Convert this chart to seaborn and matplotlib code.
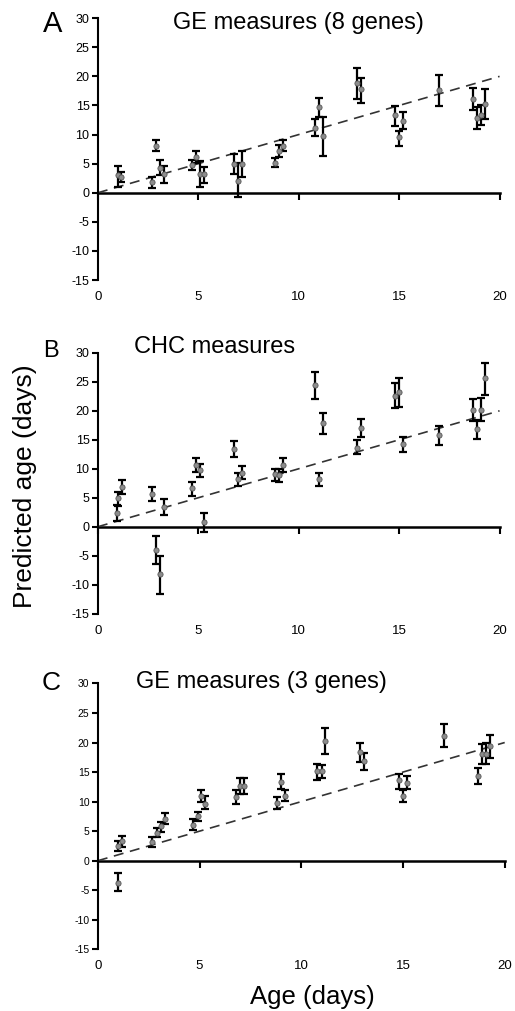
import numpy as np
import pandas as pd
import seaborn as sns
import matplotlib.pyplot as plt

# Panel A: GE measures (8 genes)
a_age = [0.98, 1.16, 2.69, 2.9, 3.1, 3.3, 4.68, 4.88, 5.1, 5.3, 6.77, 7.0, 7.19, 8.8, 9.0, 9.2,
         10.8, 11.0, 11.2, 12.9, 13.1, 14.8, 15.0, 15.2, 17.0, 18.7, 18.9, 19.1, 19.3]
a_pred = [3.0, 2.75, 1.9, 8.1, 4.3, 3.3, 4.8, 6.2, 3.3, 3.2, 4.9, 2.1, 4.9, 5.2, 7.2, 8.1,
          11.2, 14.7, 9.75, 18.8, 17.8, 13.4, 9.5, 12.4, 17.6, 16.1, 12.9, 13.4, 15.3]
a_hi = [4.6, 3.6, 2.75, 9.1, 5.7, 4.6, 5.6, 7.1, 5.5, 4.5, 6.7, 5.2, 7.1, 6.0, 8.2, 9.1,
        12.6, 16.2, 13.1, 21.5, 19.8, 14.9, 10.7, 13.8, 20.3, 18.0, 14.8, 15.1, 17.8]
a_lo = [1.0, 1.9, 0.9, 7.2, 3.0, 1.6, 3.9, 5.2, 1.0, 1.7, 3.2, -0.8, 2.75, 4.4, 6.1, 7.2,
        9.8, 13.1, 6.4, 16.1, 15.5, 11.5, 8.1, 10.9, 14.9, 14.3, 11.0, 11.6, 12.7]

# Panel B: CHC measures
b_age = [0.95, 1.0, 1.2, 2.69, 2.89, 3.09, 3.3, 4.68, 4.88, 5.1, 5.3, 6.77, 6.97, 7.19, 8.8, 9.0,
         9.2, 10.8, 11.0, 11.2, 12.9, 13.1, 14.8, 15.0, 15.2, 17.0, 18.7, 18.9, 19.1, 19.3]
b_pred = [2.4, 4.9, 6.9, 5.6, -4.0, -8.2, 3.4, 6.6, 10.6, 9.8, 0.75, 13.4, 8.2, 9.3, 9.1, 8.9,
          10.7, 24.4, 8.2, 17.9, 13.6, 17.1, 22.5, 23.2, 14.2, 15.8, 20.1, 16.8, 20.2, 25.6]
b_hi = [3.7, 6.0, 8.0, 6.9, -1.6, -5.1, 4.8, 7.8, 11.9, 10.8, 2.4, 14.8, 9.3, 10.5, 9.9, 9.9,
        11.9, 26.7, 9.2, 19.7, 14.9, 18.6, 24.8, 25.6, 15.4, 17.4, 22.0, 18.4, 22.2, 28.3]
b_lo = [1.0, 3.6, 5.7, 4.5, -6.5, -11.6, 2.0, 5.3, 9.5, 8.6, -0.9, 12.1, 7.1, 8.2, 7.9, 7.8,
        9.5, 22.0, 7.1, 16.0, 12.5, 15.4, 20.4, 20.7, 12.9, 14.1, 18.3, 15.1, 18.3, 22.7]

# Panel C: GE measures (3 genes)
c_age = [0.97, 0.97, 1.18, 2.68, 2.9, 3.09, 3.3, 4.7, 4.9, 5.09, 5.29, 6.79, 7.0, 7.2, 8.79,
         8.98, 9.2, 10.79, 11.0, 11.19, 12.9, 13.1, 14.8, 15.0, 15.2, 17.0, 18.7, 18.9, 19.1, 19.3]
c_pred = [2.55, -3.7, 3.3, 3.1, 4.7, 5.8, 7.1, 6.1, 7.5, 10.9, 9.6, 10.75, 12.6, 12.6, 9.7,
          13.4, 11.0, 15.1, 15.2, 20.3, 18.4, 16.9, 13.6, 11.0, 13.1, 21.1, 14.3, 18.1, 18.1, 19.4]
c_hi = [3.4, -2.1, 4.1, 4.0, 5.5, 6.6, 8.0, 7.0, 8.2, 11.9, 10.9, 11.9, 14.0, 14.0, 10.75,
        14.6, 12.0, 16.4, 16.2, 22.4, 20.0, 18.2, 14.7, 12.0, 14.3, 23.1, 15.7, 19.8, 19.9, 21.3]
c_lo = [1.6, -5.2, 2.3, 2.3, 4.0, 4.9, 6.2, 5.2, 6.8, 9.9, 8.7, 9.6, 11.3, 11.3, 8.8,
        12.2, 10.1, 13.7, 14.0, 18.0, 16.7, 15.3, 12.1, 9.9, 12.1, 19.2, 12.9, 16.4, 16.3, 17.3]

# identity line (predicted = actual)
ref_age = [0, 20]
ref_pred = [0, 20]

titles = ["GE measures (8 genes)", "CHC measures", "GE measures (3 genes)"]
letters = ["A", "B", "C"]

sns.set_style("ticks")
plt.rcParams['font.family'] = ['Liberation Sans', 'DejaVu Sans']
plt.rcParams['axes.unicode_minus'] = False
plt.rcParams['text.color'] = 'black'
plt.rcParams['xtick.color'] = 'black'
plt.rcParams['ytick.color'] = 'black'
plt.rcParams['axes.edgecolor'] = 'black'

fig = plt.figure(figsize=(5.15, 10.11), dpi=100)
boxes = [[0.19, 0.723, 0.78, 0.259],
         [0.19, 0.393, 0.78, 0.258],
         [0.19, 0.061, 0.79, 0.263]]
title_pos = [(0.579, 0.988), (0.26, 0.668), (0.264, 0.336)]
title_ha = ["center", "left", "left"]
letter_pos = [(0.083, 0.990), (0.083, 0.664), (0.081, 0.336)]
letter_size = [21, 17, 19]
ytick_size = [9, 9, 7.5]

panels = [(a_age, a_pred, a_lo, a_hi), (b_age, b_pred, b_lo, b_hi), (c_age, c_pred, c_lo, c_hi)]

for i, (age, pred, lo, hi) in enumerate(panels):
    ax = fig.add_axes(boxes[i])
    df = pd.DataFrame({"age": age, "pred": pred, "lo": lo, "hi": hi})
    yerr = np.vstack([df["pred"] - df["lo"], df["hi"] - df["pred"]])

    sns.lineplot(x=ref_age, y=ref_pred, ax=ax, color="#333333", lw=1.2,
                 linestyle=(0, (6, 4)), zorder=1)
    ax.errorbar(df["age"], df["pred"], yerr=yerr, fmt="none", ecolor="black",
                elinewidth=1.6, capsize=3, capthick=1.6, zorder=2)
    sns.scatterplot(data=df, x="age", y="pred", ax=ax, color="#8c8c8c", s=14,
                    edgecolor="#555555", linewidth=0.6, zorder=3)

    ax.set_xlim(0, 20)
    ax.set_ylim(-15, 30)
    ax.set_yticks(range(-15, 31, 5))
    ax.set_xticks(range(0, 21, 5))
    ax.set_xlabel("")
    ax.set_ylabel("")

    for s in ["top", "right", "bottom"]:
        ax.spines[s].set_visible(False)
    ax.spines["left"].set_linewidth(1.5)
    ax.tick_params(axis="y", direction="out", length=4, width=1.5,
                   labelsize=ytick_size[i], pad=2)
    ax.tick_params(axis="x", length=0, labelsize=9.5, pad=8)

    # x axis line crossing at y = 0
    zero_frac = (0 - (-15)) / (30 - (-15))
    sec = ax.secondary_xaxis(zero_frac)
    sec.set_xticks(range(0, 21, 5))
    sec.tick_params(axis="x", direction="out", length=5, width=1.5, labelbottom=False)
    sec.set_xticklabels([])
    sec.spines["bottom"].set_linewidth(1.8)

    fig.text(title_pos[i][0], title_pos[i][1], titles[i], ha=title_ha[i], va="top", fontsize=17)
    fig.text(letter_pos[i][0], letter_pos[i][1], letters[i], ha="left", va="top",
             fontsize=letter_size[i])

fig.text(0.049, 0.519, "Predicted age (days)", rotation=90, ha="center", va="center", fontsize=19)
fig.text(0.606, 0.014, "Age (days)", ha="center", va="center", fontsize=18.5)

fig.savefig("out.png", dpi=100)
